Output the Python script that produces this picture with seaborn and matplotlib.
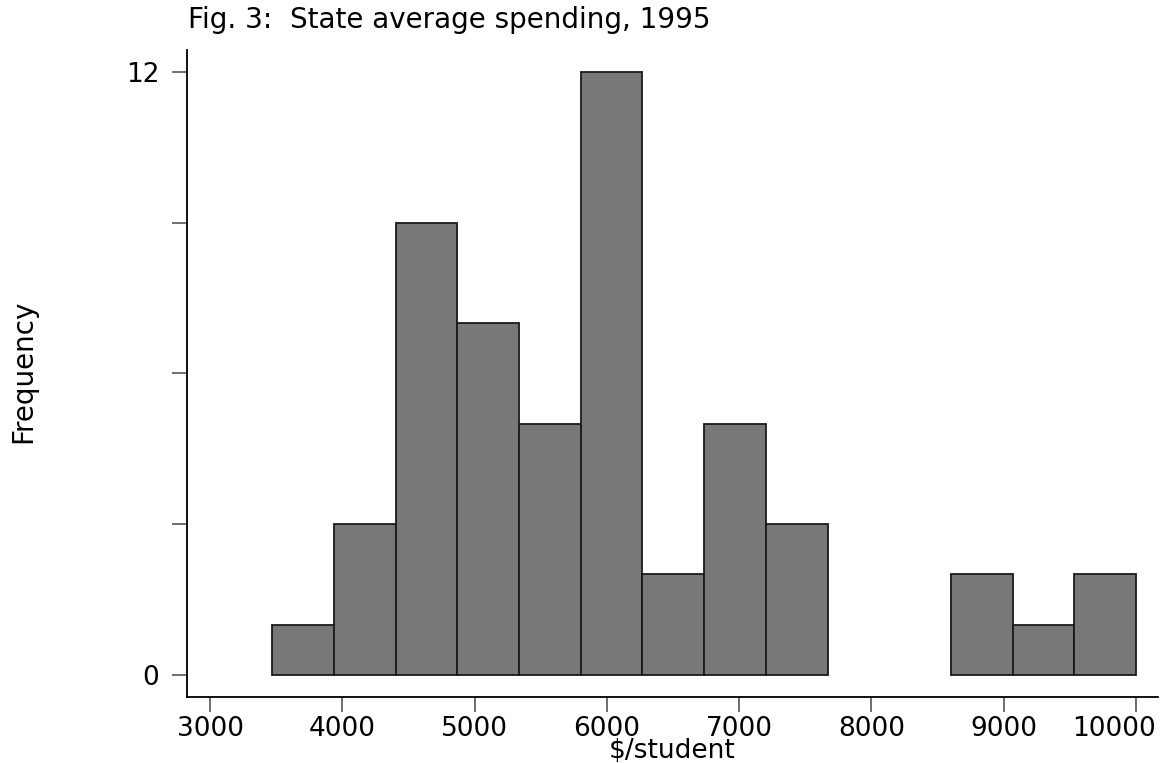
import numpy as np
import pandas as pd
import matplotlib
matplotlib.use("Agg")
import matplotlib.pyplot as plt
import matplotlib.transforms as mtransforms
import seaborn as sns

# Data
bin_start = 3471
bin_end = 10000
counts = [1, 3, 9, 7, 5, 12, 2, 5, 3, 0, 0, 2, 1, 2]
x_ticks = [3000, 4000, 5000, 6000, 7000, 8000, 9000, 10000]
y_ticks = [0, 3, 6, 9, 12]
y_tick_labels = ["0", "", "", "", "12"]
title = "Fig. 3:  State average spending, 1995"
xlabel = "$/student"
ylabel = "Frequency"

edges = np.linspace(bin_start, bin_end, len(counts) + 1)
centers = (edges[:-1] + edges[1:]) / 2
df = pd.DataFrame({"spend": centers, "n": counts})

sns.set_theme(style="white")
plt.rcParams["font.family"] = ["DejaVu Sans"]
plt.rcParams["text.color"] = "black"
plt.rcParams["axes.labelcolor"] = "black"
plt.rcParams["xtick.color"] = "black"
plt.rcParams["ytick.color"] = "black"

fig = plt.figure(figsize=(11.63, 7.63), dpi=100)
ax = fig.add_axes([0.1608, 0.0865, 0.9957 - 0.1608, 0.9345 - 0.0865])

sns.histplot(data=df, x="spend", weights="n", bins=len(counts),
             binrange=(bin_start, bin_end), ax=ax,
             color="#787878", alpha=1.0, edgecolor="#1a1a1a", linewidth=1.3)
for p in ax.patches:
    if p.get_height() == 0:
        p.set_visible(False)

ax.set_xlim(2826, 10166)
ax.set_ylim(-0.44, 12.44)
ax.set_xticks(x_ticks)
ax.set_xticklabels([str(v) for v in x_ticks])
ax.set_yticks(y_ticks)
ax.set_yticklabels(y_tick_labels)
for s in ["top", "right"]:
    ax.spines[s].set_visible(False)
for s in ["left", "bottom"]:
    ax.spines[s].set_color("black")
    ax.spines[s].set_linewidth(1.3)
ax.tick_params(axis="x", direction="out", length=11, width=1.2, color="#555555",
               labelcolor="black", labelsize=19, pad=3, bottom=True)
ax.tick_params(axis="y", direction="out", length=11, width=1.2, color="#555555",
               labelcolor="black", labelsize=19, pad=9, left=True)

# last x tick label is pushed left so it stays inside the figure (as in the reference)
last = ax.get_xticklabels()[-1]
last.set_horizontalalignment("right")
last.set_transform(last.get_transform() +
                   mtransforms.ScaledTranslation(20 / 100, 0, fig.dpi_scale_trans))

ax.set_xlabel(xlabel, fontsize=19)
ax.xaxis.set_label_coords(0.5, -0.063)
ax.set_ylabel(ylabel, fontsize=20)
ax.yaxis.set_label_coords(-0.1545, 0.503)
fig.text(188 / 1163, 1 - 28 / 763, title, fontsize=20, ha="left", va="baseline")

fig.savefig("out.png", dpi=100)
